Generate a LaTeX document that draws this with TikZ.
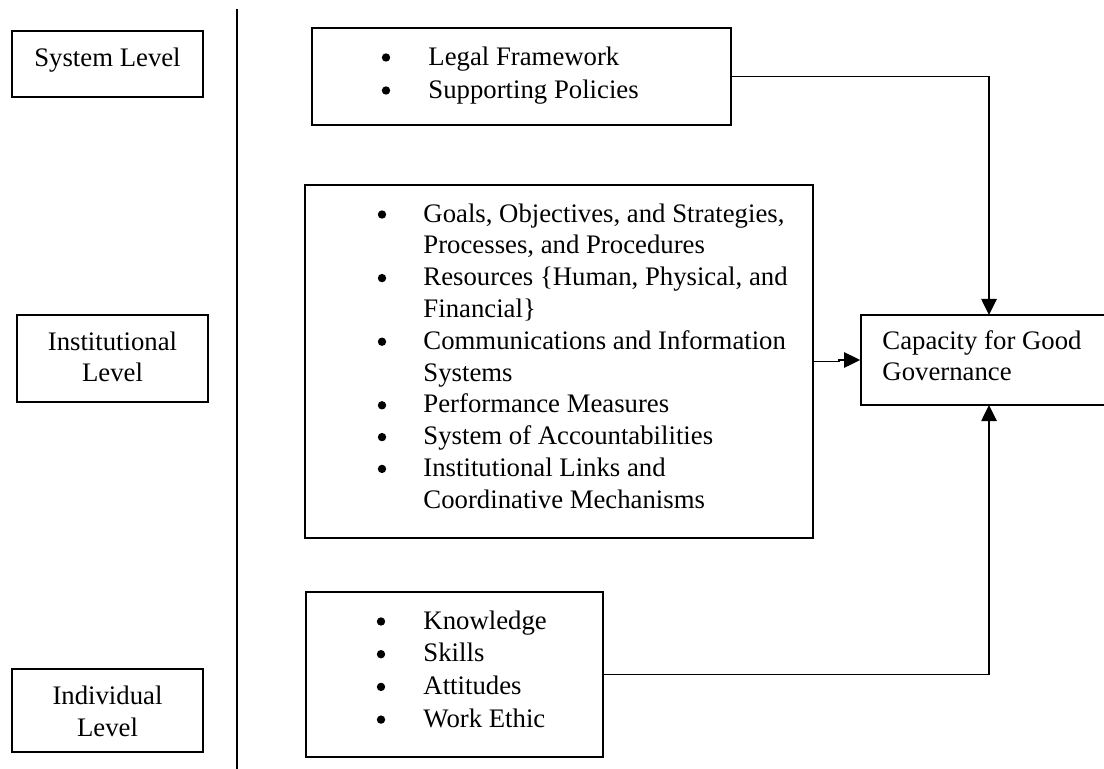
\documentclass[tikz,border=0pt]{standalone}
\usepackage{fontspec}
\setmainfont{Liberation Serif}
\usetikzlibrary{arrows.meta,fit}
\begin{document}
\begin{tikzpicture}[x=0.43pt,y=-0.43pt,
  box/.style={draw, line width=0.7pt, inner sep=0pt},
  txt/.style={inner sep=0pt, anchor=base west, font=\fontsize{11.5}{14}\selectfont},
  ctxt/.style={inner sep=0pt, anchor=base, font=\fontsize{11.5}{14}\selectfont},
  dot/.style={circle, fill, inner sep=0pt, minimum size=3.6pt},
  link/.style={line width=0.7pt, -{Triangle[length=6.9pt,width=6.6pt]}},
  divider/.style={line width=0.7pt}]
\clip (0,0) rectangle (1104,769);

% level labels on the left
\node[box, fit={(12,31) (203,97)}] (syslvl) {};
\node[ctxt] (syslvl-t) at (107.5,66) {System Level};
\node[box, fit={(17,315) (208,402)}] (instlvl) {};
\node[ctxt] (instlvl-t1) at (112.5,350) {Institutional};
\node[ctxt] (instlvl-t2) at (112.5,381) {Level};
\node[box, fit={(12,669) (203,752)}] (indlvl) {};
\node[ctxt] (indlvl-t1) at (107.5,704) {Individual};
\node[ctxt] (indlvl-t2) at (107.5,736) {Level};

% separating rule
\draw[divider] (237,9) -- (237,769);

% system level contents
\node[box, fit={(312,28) (731,125)}] (legal) {};
\foreach \t [count=\i from 0] in {Legal Framework, Supporting Policies}{
  \node[dot] (legal-b\i) at (386,57.5+33*\i) {};
  \node[txt] (legal-t\i) at (428,65+33*\i) {\t};
}

% institutional level contents
\node[box, fit={(305,185) (813,538)}] (inst) {};
\foreach \t/\b [count=\i from 0] in {
  {Goals, Objectives, and Strategies,}/1,
  {Processes, and Procedures}/0,
  {Resources \{Human, Physical, and}/1,
  {Financial\}}/0,
  {Communications and Information}/1,
  {Systems}/0,
  {Performance Measures}/1,
  {System of Accountabilities}/1,
  {Institutional Links and}/1,
  {Coordinative Mechanisms}/0}{
  \ifnum\b=1
    \node[dot] (inst-b\i) at (382,214.5+31.8*\i) {};
  \fi
  \node[txt] (inst-t\i) at (423,222+31.8*\i) {\t};
}

% individual level contents
\node[box, fit={(306,592) (603,757)}] (indiv) {};
\foreach \t [count=\i from 0] in {Knowledge, Skills, Attitudes, Work Ethic}{
  \node[dot] (indiv-b\i) at (381,621.5+32.7*\i) {};
  \node[txt] (indiv-t\i) at (423,629+32.7*\i) {\t};
}

% outcome box (runs past the right margin)
\node[box, fit={(861,315) (1117,405)}] (cap) {};
\node[txt] (cap-t1) at (882,349) {Capacity for Good};
\node[txt] (cap-t2) at (882,380) {Governance};
\coordinate (captop) at (989,315);
\coordinate (capbot) at (989,405);

% connectors
\draw[link] (legal.east) -| (captop);
\draw[link] (indiv.east) -| (capbot);
\draw[link] (inst.east) -- ++(25,0) |- (cap.west);
\end{tikzpicture}
\end{document}
